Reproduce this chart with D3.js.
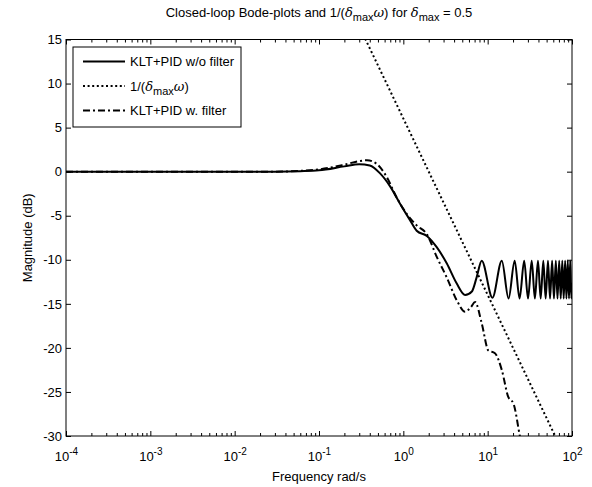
<!DOCTYPE html>
<html>
<head>
<meta charset="utf-8">
<script src="https://cdnjs.cloudflare.com/ajax/libs/d3/7.8.5/d3.min.js"></script>
<style>
  body { margin: 0; background: #fff; }
  svg text { font-family: "Liberation Sans", Arial, sans-serif; fill: #000; }
</style>
</head>
<body>
<svg id="chart" width="592" height="487"></svg>
<script>
// frequency (rad/s) and magnitude (dB)

// KLT+PID w/o filter
var solidW = [1e-4, 0.01, 0.03, 0.06, 0.1, 0.2, 0.3, 0.4, 0.53, 0.7, 0.91, 1.2, 1.44, 1.9, 2.5, 3.27, 4.3, 5.4, 6.5, 7.4,
  8.5, 11.4, 14.7, 17.7, 20.9, 23.9, 27.1, 30.1, 33.3, 36.3, 39.5, 42.5, 45.7, 48.7, 51.9, 54.9, 58.1, 61.1,
  64.3, 67.3, 70.5, 73.5, 76.7, 79.7, 82.9, 85.9, 89.1, 92.1, 95.3, 98.3, 100];
var solidDb = [0, 0, 0, 0.05, 0.15, 0.6, 0.85, 0.7, -0.2, -1.7, -3.6, -5.5, -6.7, -7.3, -8.6, -10.4, -12.7, -14.0, -13.6, -12.0,
  -10.1, -14.3, -10.1, -14.4, -10.1, -14.4, -10.1, -14.4, -10.1, -14.4, -10.1, -14.4, -10.1, -14.4, -10.1, -14.4, -10.1, -14.4,
  -10.1, -14.4, -10.1, -14.4, -10.1, -14.4, -10.1, -14.4, -10.1, -14.4, -10.1, -14.4, -12.6];

// 1/(delta_max * omega)
var dotW = [0.3, 100];
var dotDb = [16.5, -34.0];

// KLT+PID w. filter
var dashW = [1e-4, 0.03, 0.06, 0.1, 0.2, 0.3, 0.37, 0.48, 0.635, 0.83, 1.1, 1.44, 1.9, 2.5, 3.27, 4.3, 5.4, 6.3, 7.1,
  8.5, 10.2, 12.2, 14.7, 17.6, 20.2, 24.2, 26];
var dashDb = [0, 0, 0.1, 0.25, 0.8, 1.2, 1.3, 0.9, -0.6, -2.9, -4.8, -6.1, -7.1, -9.7, -12.0, -14.6, -15.9, -15.4, -14.8,
  -17.2, -20.3, -20.6, -22.5, -25.6, -26.3, -30.1, -31.5];

var yTicks = [-30, -25, -20, -15, -10, -5, 0, 5, 10, 15];
var xMajor = [1e-4, 1e-3, 1e-2, 1e-1, 1e0, 1e1, 1e2];

var legendLabels = ['KLT+PID w/o filter', '1/(\u03B4max\u03C9)', 'KLT+PID w. filter'];

(function() {
  var svg = d3.select('#chart');

  var pl = 66, pr = 572, pt = 39.5, pb = 436;
  var fs = 13;

  var x = d3.scaleLog().domain([1e-4, 1e2]).range([pl, pr]);
  var y = d3.scaleLinear().domain([-30, 15]).range([pb, pt]);

  // minor ticks 2..9 in every decade
  var xMinor = [];
  xMajor.slice(0, -1).forEach(function(d) {
    for (var k = 2; k <= 9; k++) xMinor.push(d * k);
  });

  svg.append('clipPath').attr('id', 'clip')
    .append('rect').attr('x', pl).attr('y', pt).attr('width', pr - pl).attr('height', pb - pt);

  function zip(a, b) { return a.map(function(d, i) { return [d, b[i]]; }); }

  var line = d3.line()
    .x(function(d) { return x(d[0]); })
    .y(function(d) { return y(d[1]); })
    .curve(d3.curveMonotoneX);

  var plot = svg.append('g').attr('clip-path', 'url(#clip)');

  plot.append('path').datum(zip(solidW, solidDb))
    .attr('d', line).attr('fill', 'none').attr('stroke', '#000').attr('stroke-width', 2);
  plot.append('path').datum(zip(dotW, dotDb))
    .attr('d', line).attr('fill', 'none').attr('stroke', '#000').attr('stroke-width', 2)
    .attr('stroke-dasharray', '2,2.6');
  plot.append('path').datum(zip(dashW, dashDb))
    .attr('d', line).attr('fill', 'none').attr('stroke', '#000').attr('stroke-width', 2)
    .attr('stroke-dasharray', '7,3,2,3');

  // axes with inward ticks
  function styleAxis(g) {
    g.select('.domain').remove();
    g.selectAll('.tick line').attr('stroke', '#000');
  }

  svg.append('g').attr('transform', 'translate(0,' + pb + ')')
    .call(d3.axisBottom(x).tickValues(xMinor).tickSize(-3).tickFormat(''))
    .call(styleAxis);
  svg.append('g').attr('transform', 'translate(0,' + pt + ')')
    .call(d3.axisTop(x).tickValues(xMinor).tickSize(-3).tickFormat(''))
    .call(styleAxis);
  svg.append('g').attr('transform', 'translate(0,' + pt + ')')
    .call(d3.axisTop(x).tickValues(xMajor).tickSize(-5).tickFormat(''))
    .call(styleAxis);

  var xAxis = svg.append('g').attr('transform', 'translate(0,' + pb + ')')
    .call(d3.axisBottom(x).tickValues(xMajor).tickSize(-5).tickPadding(12))
    .call(styleAxis);
  xAxis.selectAll('.tick text').each(function(d) {
    var t = d3.select(this).text(null).attr('font-size', fs).attr('dy', '1.0em');
    t.append('tspan').text('10');
    t.append('tspan').attr('dy', '-0.6em').attr('font-size', 10).text(String(Math.round(Math.log10(d))));
  });

  svg.append('g').attr('transform', 'translate(' + pl + ',0)')
    .call(d3.axisLeft(y).tickValues(yTicks).tickSize(-5).tickPadding(4)
      .tickFormat(function(d) { return String(d); }))
    .call(styleAxis)
    .selectAll('.tick text').attr('font-size', fs);
  svg.append('g').attr('transform', 'translate(' + pr + ',0)')
    .call(d3.axisRight(y).tickValues(yTicks).tickSize(-5).tickFormat(''))
    .call(styleAxis);

  svg.append('rect').attr('x', pl).attr('y', pt).attr('width', pr - pl).attr('height', pb - pt)
    .attr('fill', 'none').attr('stroke', '#000').attr('stroke-width', 1);

  // text runs with greek letters and subscripts
  function greekText(sel, parts) {
    parts.forEach(function(p) {
      var ts = sel.append('tspan').text(p.t);
      if (p.i) ts.attr('font-style', 'italic').attr('font-family', '"DejaVu Serif", serif');
      if (p.sub) ts.attr('font-size', 11).attr('dy', 4);
      if (p.up) ts.attr('dy', -4);
    });
  }

  var title = svg.append('text').attr('x', (pl + pr) / 2).attr('y', 17)
    .attr('text-anchor', 'middle').attr('font-size', fs);
  greekText(title, [
    {t: 'Closed-loop Bode-plots and 1/('}, {t: '\u03B4', i: true}, {t: 'max', sub: true},
    {t: '\u03C9', i: true, up: true}, {t: ') for '}, {t: '\u03B4', i: true}, {t: 'max', sub: true},
    {t: ' = 0.5', up: true}
  ]);

  svg.append('text').attr('x', (pl + pr) / 2).attr('y', 481)
    .attr('text-anchor', 'middle').attr('font-size', fs).text('Frequency rad/s');

  svg.append('text').attr('transform', 'translate(32,' + ((pt + pb) / 2) + ') rotate(-90)')
    .attr('text-anchor', 'middle').attr('font-size', fs).text('Magnitude (dB)');

  // legend
  var lg = svg.append('g');
  lg.append('rect').attr('x', 73).attr('y', 47).attr('width', 168).attr('height', 80)
    .attr('fill', '#fff').attr('stroke', '#000').attr('stroke-width', 1);
  var dashes = [null, '2,2.6', '7,3,2,3'];
  legendLabels.forEach(function(lab, i) {
    var yy = 61.5 + i * 24.5;
    lg.append('line').attr('x1', 83).attr('x2', 125).attr('y1', yy).attr('y2', yy)
      .attr('stroke', '#000').attr('stroke-width', 2).attr('stroke-dasharray', dashes[i]);
    var t = lg.append('text').attr('x', 130).attr('y', yy + 4.5).attr('font-size', fs);
    if (i === 1) {
      greekText(t, [{t: '1/('}, {t: '\u03B4', i: true}, {t: 'max', sub: true}, {t: '\u03C9', i: true, up: true}, {t: ')'}]);
    } else {
      t.text(lab);
    }
  });
}());
</script>
</body>
</html>
